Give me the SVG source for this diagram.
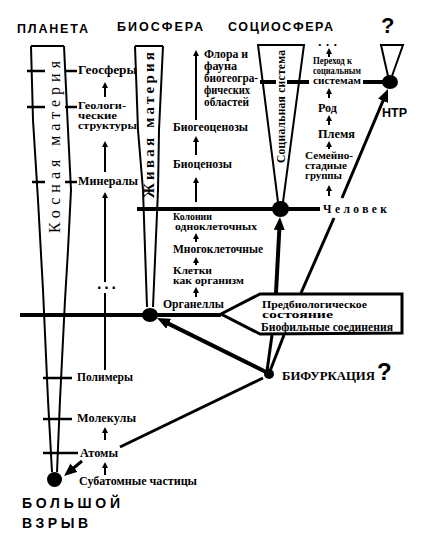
<svg xmlns="http://www.w3.org/2000/svg" width="427" height="542" viewBox="0 0 427 542">
<style>
.t{font-family:"Liberation Serif","Times New Roman",serif;font-weight:bold;font-size:11.5px;fill:#000}
.s{font-size:10px}
.h{font-family:"Liberation Sans",Arial,sans-serif;font-weight:bold;fill:#000}
.e{fill:none;stroke:#000;stroke-width:2}
.tk{stroke:#000;stroke-width:2.5;fill:none}
.th{stroke:#000;stroke-width:4;fill:none}
.md{stroke:#000;stroke-width:3;fill:none}
.sa{stroke:#000;stroke-width:2;fill:none;marker-end:url(#sa)}
.la{stroke:#000;stroke-width:4;fill:none;marker-end:url(#la)}
.lm{stroke:#000;stroke-width:3;fill:none;marker-end:url(#la)}
.n{fill:#000}
</style>
<defs>
<marker id="sa" markerUnits="userSpaceOnUse" markerWidth="6" markerHeight="6" refX="3" refY="3" orient="auto"><path d="M0,0 L6,3 L0,6 z"/></marker>
<marker id="la" markerUnits="userSpaceOnUse" markerWidth="13" markerHeight="11" refX="6" refY="5.5" orient="auto"><path d="M0,0 L13,5.5 L0,11 z"/></marker>
</defs>
<rect width="427" height="542" fill="#fff"/>

<g id="titles">
<text class="h" x="17" y="33" font-size="12.5" textLength="71" lengthAdjust="spacing">ПЛАНЕТА</text>
<text class="h" x="117" y="31" font-size="12.5" textLength="86" lengthAdjust="spacing">БИОСФЕРА</text>
<text class="h" x="228" y="31" font-size="12.5" textLength="105" lengthAdjust="spacing">СОЦИОСФЕРА</text>
<text class="h" x="381" y="33" font-size="22">?</text>
</g>

<g id="cone-planeta">
<line class="e" x1="31" y1="46" x2="64" y2="46"/>
<polyline class="e" points="31,46 33,120 38,200 43,290 48,400 52,472"/>
<polyline class="e" points="64,46 68,130 71,190 68,250 65,300 60,400 57,472"/>
<path class="tk" d="M27,71H45M65,71H77M27,107H45M65,107H77M32,182H45M65,182H77M43,378H72M43,419H72M43,453H78"/>
<text transform="translate(60,233) rotate(-90)" style="font-family:'Liberation Serif',serif;font-size:16px" textLength="172" lengthAdjust="spacing">Косная материя</text>
</g>

<g id="cone-bio">
<line class="e" x1="135" y1="46" x2="163" y2="46"/>
<polyline class="e" points="135,46 138,130 143,190 147,307"/>
<polyline class="e" points="163,46 159,130 158,190 153,307"/>
<text transform="translate(154,198) rotate(-90)" style="font-family:'Liberation Serif',serif;font-weight:bold;font-size:15px" textLength="146" lengthAdjust="spacing">Живая материя</text>
</g>

<g id="cone-socio">
<polyline class="e" points="278,202 258,45 304,45 283,202"/>
<text transform="translate(285,163) rotate(-90)" class="t" font-size="12" textLength="113" lengthAdjust="spacing">Социальная система</text>
</g>

<g id="cone-ntr">
<polyline class="e" points="388,76 381,45 403,45 392,76"/>
</g>

<g id="col-planeta">
<text class="t" x="78" y="74" textLength="59" lengthAdjust="spacingAndGlyphs">Геосферы</text>
<text class="t s" x="78" y="109" textLength="48" lengthAdjust="spacingAndGlyphs">Геологи-</text>
<text class="t s" x="78" y="119" textLength="39" lengthAdjust="spacingAndGlyphs">ческие</text>
<text class="t s" x="78" y="129" textLength="59" lengthAdjust="spacingAndGlyphs">структуры</text>
<text class="t" x="78" y="185" textLength="60" lengthAdjust="spacingAndGlyphs">Минералы</text>
<text class="h" x="97" y="289" font-size="16" textLength="19" lengthAdjust="spacing">...</text>
<text class="t" x="77" y="381" textLength="56" lengthAdjust="spacingAndGlyphs">Полимеры</text>
<text class="t" x="77" y="422" textLength="59" lengthAdjust="spacingAndGlyphs">Молекулы</text>
<text class="t" x="80" y="457" textLength="38" lengthAdjust="spacingAndGlyphs">Атомы</text>
<text class="t" x="79" y="485" textLength="118" lengthAdjust="spacingAndGlyphs">Субатомные частицы</text>
</g>

<g id="col-bio">
<text class="t" x="204" y="58" textLength="44" lengthAdjust="spacingAndGlyphs">Флора и</text>
<text class="t" x="204" y="70" textLength="33" lengthAdjust="spacingAndGlyphs">фауна</text>
<text class="t" x="204" y="82" textLength="54" lengthAdjust="spacingAndGlyphs">биогеогра-</text>
<text class="t" x="204" y="94" textLength="46" lengthAdjust="spacingAndGlyphs">фических</text>
<text class="t" x="204" y="106" textLength="45" lengthAdjust="spacingAndGlyphs">областей</text>
<text class="t" x="173" y="131" textLength="75" lengthAdjust="spacingAndGlyphs">Биогеоценозы</text>
<text class="t" x="173" y="168" textLength="59" lengthAdjust="spacingAndGlyphs">Биоценозы</text>
<text class="t s" x="173" y="220" textLength="39" lengthAdjust="spacingAndGlyphs">Колонии</text>
<text class="t s" x="175" y="230" textLength="82" lengthAdjust="spacingAndGlyphs">одноклеточных</text>
<text class="t" x="173" y="253" textLength="90" lengthAdjust="spacingAndGlyphs">Многоклеточные</text>
<text class="t s" x="173" y="274" textLength="39" lengthAdjust="spacingAndGlyphs">Клетки</text>
<text class="t s" x="173" y="284" textLength="71" lengthAdjust="spacingAndGlyphs">как организм</text>
</g>

<g id="col-socio">
<text class="h" x="318" y="46" font-size="13" textLength="19" lengthAdjust="spacing">...</text>
<text class="t s" x="313" y="64" textLength="39" lengthAdjust="spacingAndGlyphs">Переход к</text>
<text class="t s" x="313" y="74" textLength="48" lengthAdjust="spacingAndGlyphs">социальным</text>
<text class="t s" x="313" y="84" textLength="48" lengthAdjust="spacingAndGlyphs">системам</text>
<text class="t" x="318" y="112" textLength="19" lengthAdjust="spacingAndGlyphs">Род</text>
<text class="t" x="318" y="138" textLength="37" lengthAdjust="spacingAndGlyphs">Племя</text>
<text class="t s" x="305" y="159" textLength="48" lengthAdjust="spacingAndGlyphs">Семейно-</text>
<text class="t s" x="305" y="169" textLength="42" lengthAdjust="spacingAndGlyphs">стадные</text>
<text class="t s" x="305" y="179" textLength="37" lengthAdjust="spacingAndGlyphs">группы</text>
</g>

<g id="node-bigbang">
<ellipse class="n" cx="54.5" cy="479.5" rx="7.5" ry="7.5"/>
<text class="h" x="22" y="508" font-size="14" textLength="98" lengthAdjust="spacing">БОЛЬШОЙ</text>
<text class="h" x="22" y="528" font-size="14" textLength="66" lengthAdjust="spacing">ВЗРЫВ</text>
</g>

<g id="node-organelles">
<ellipse class="n" cx="150" cy="315" rx="8" ry="7"/>
<text class="t" x="163" y="308" textLength="61" lengthAdjust="spacingAndGlyphs">Органеллы</text>
</g>

<g id="node-chelovek">
<ellipse class="n" cx="280.5" cy="209" rx="8.5" ry="8"/>
<text class="t" x="323" y="213" textLength="64" lengthAdjust="spacing">Человек</text>
</g>

<g id="node-ntr">
<ellipse class="n" cx="390" cy="82" rx="8" ry="7"/>
<text class="h" x="382" y="117" font-size="13" textLength="25" lengthAdjust="spacingAndGlyphs">НТР</text>
</g>

<g id="node-bifurcation">
<circle class="n" cx="269" cy="374" r="5"/>
<text class="t" x="282" y="380" font-size="14" textLength="93" lengthAdjust="spacingAndGlyphs">БИФУРКАЦИЯ</text>
<text class="h" x="377" y="380" font-size="24">?</text>
</g>

<g id="node-prebio">
<polygon points="221,314 260,294 402,294 402,333 260,334" fill="#fff" stroke="#000" stroke-width="3"/>
<text class="t s" x="262" y="308" textLength="105" lengthAdjust="spacingAndGlyphs">Предбиологическое</text>
<text class="t s" x="262" y="318" textLength="71" lengthAdjust="spacingAndGlyphs">состояние</text>
<text class="t" x="261" y="331" textLength="132" lengthAdjust="spacingAndGlyphs">Биофильные  соединения</text>
</g>

<g id="connectors">
<line class="th" x1="20" y1="315" x2="221" y2="315"/>
<line class="th" x1="137" y1="209" x2="320" y2="209"/>
<line class="th" x1="363" y1="82" x2="386" y2="82"/>
<path class="th" d="M260,82H276M287,82H309"/>
<line class="sa" x1="105" y1="97" x2="105" y2="85"/>
<line class="sa" x1="105" y1="172" x2="105" y2="144"/>
<line class="sa" x1="105" y1="282" x2="105" y2="195"/>
<line class="e" x1="105" y1="293" x2="105" y2="370"/>
<line class="sa" x1="105" y1="440" x2="105" y2="430"/>
<line class="sa" x1="105" y1="475" x2="105" y2="465"/>
<line class="sa" x1="196" y1="120" x2="196" y2="53"/>
<line class="sa" x1="196" y1="155" x2="196" y2="139"/>
<line class="sa" x1="196" y1="202" x2="196" y2="180"/>
<line class="sa" x1="196" y1="242" x2="196" y2="236"/>
<line class="sa" x1="196" y1="265" x2="196" y2="260"/>
<line class="sa" x1="196" y1="297" x2="196" y2="290"/>
<line class="sa" x1="329" y1="57" x2="329" y2="51"/>
<line class="sa" x1="329" y1="98" x2="329" y2="91"/>
<line class="sa" x1="329" y1="125" x2="329" y2="118"/>
<line class="sa" x1="329" y1="149" x2="329" y2="144"/>
<line class="sa" x1="329" y1="196" x2="329" y2="188"/>
<line class="la" x1="266" y1="372" x2="163.3" y2="321.1"/>
<path class="lm" d="M263,378L120,447M82,461L69.4,471.5"/>
<line class="la" x1="276" y1="293" x2="279.6" y2="224"/>
<path class="lm" d="M301,293L334,218M342,198L385.3,95.4"/>
<line class="md" x1="267" y1="371" x2="272" y2="335"/>
<line class="md" x1="270" y1="371" x2="284" y2="335"/>
</g>
</svg>
